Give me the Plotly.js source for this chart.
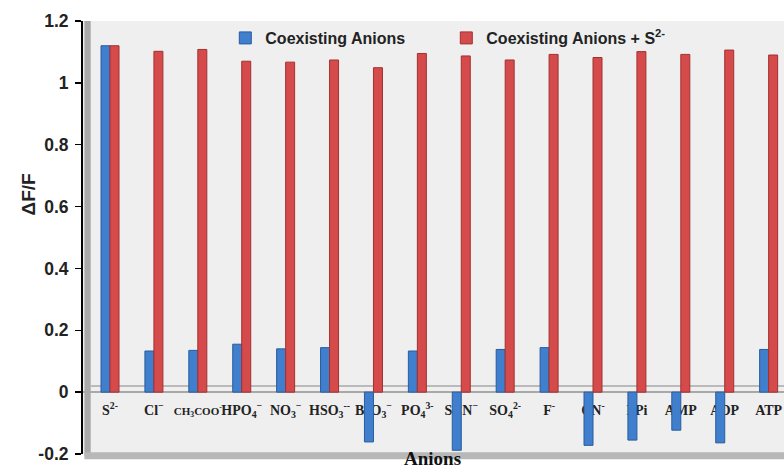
<!DOCTYPE html>
<html>
<head>
<meta charset="utf-8">
<script src="https://cdn.plot.ly/plotly-3.0.1.min.js"></script>
<style>html,body{margin:0;padding:0;background:#fff;}#chart{width:784px;height:470px;}</style>
</head>
<body>
<div id="chart"></div>
<script>
var categories = [
  'S<sup>2-</sup>', 'Cl<sup>−</sup>', '<span style="font-size:11px">CH<sub>3</sub>COO<sup>-</sup></span>',
  'HPO<sub>4</sub><sup>−</sup>', 'NO<sub>3</sub><sup>−</sup>', 'HSO<sub>3</sub><sup>--</sup>',
  'BrO<sub>3</sub><sup>−</sup>', 'PO<sub>4</sub><sup>3-</sup>', 'SCN<sup>−</sup>',
  'SO<sub>4</sub><sup>2-</sup>', 'F<sup>-</sup>', 'CN<sup>-</sup>', 'PPi', 'AMP', 'ADP', 'ATP'
];
var coexisting = [1.12, 0.133, 0.135, 0.155, 0.140, 0.144, -0.161, 0.133, -0.188, 0.138, 0.144, -0.172, -0.155, -0.123, -0.164, 0.138];
var coexistingS = [1.12, 1.102, 1.108, 1.070, 1.067, 1.074, 1.049, 1.095, 1.087, 1.074, 1.092, 1.082, 1.101, 1.092, 1.106, 1.090];
var seriesNames = ['<b>Coexisting Anions</b>', '<b>Coexisting Anions + S<sup>2-</sup></b>'];
var yTicks = [-0.2, 0, 0.2, 0.4, 0.6, 0.8, 1, 1.2];
var yTickText = ['-0.2', '0', '0.2', '0.4', '0.6', '0.8', '1', '1.2'];

var traces = [
  {type: 'bar', x: categories, y: coexisting, name: seriesNames[0],
   marker: {color: '#3f7fcd', line: {color: '#2a5b9e', width: 1}}},
  {type: 'bar', x: categories, y: coexistingS, name: seriesNames[1],
   marker: {color: '#d54a4a', line: {color: '#a33131', width: 1}}}
];

var layout = {
  width: 784, height: 470,
  margin: {l: 83, r: 0, t: 21, b: 16},
  paper_bgcolor: '#ffffff',
  plot_bgcolor: '#efefef',
  barmode: 'group',
  bargap: 0.59,
  bargroupgap: 0,
  showlegend: true,
  legend: {
    orientation: 'h', x: 0.203, xanchor: 'left', y: 1.0, yanchor: 'top',
    bgcolor: 'rgba(0,0,0,0)', entrywidth: 176, entrywidthmode: 'pixels',
    itemwidth: 30,
    font: {family: 'Liberation Sans, Arial, sans-serif', size: 16, color: '#222'}
  },
  xaxis: {
    type: 'category',
    range: [-0.615, 15.35],
    anchor: 'free', position: 0.143,
    showline: false, showgrid: false, zeroline: false,
    ticks: '', ticklabelstandoff: 8, tickangle: 0,
    layer: 'below traces',
    tickfont: {family: 'Liberation Serif, Times New Roman, serif', size: 14, color: '#222', weight: 'bold'},
    fixedrange: true
  },
  yaxis: {
    range: [-0.2, 1.2],
    tickvals: yTicks, ticktext: yTickText,
    showline: true, linecolor: '#000', linewidth: 2,
    ticks: 'outside', ticklen: 6, tickcolor: '#000', tickwidth: 1.5,
    showgrid: false,
    zeroline: true, zerolinecolor: '#a8a8a8', zerolinewidth: 1.5,
    ticklabelstandoff: 3,
    tickfont: {family: 'Liberation Sans, Arial, sans-serif', size: 17.5, color: '#222', weight: 'bold'},
    fixedrange: true
  },
  shapes: [
    {type: 'rect', xref: 'paper', yref: 'paper', x0: 0.002, x1: 0.011, y0: -0.005, y1: 1.0,
     fillcolor: '#a9a9a9', line: {width: 0}, layer: 'below'},
    {type: 'rect', xref: 'paper', yref: 'paper', x0: 0.002, x1: 1, y0: -0.012, y1: 0.004,
     fillcolor: '#b8b8b8', line: {width: 0}, layer: 'below'},
    {type: 'line', xref: 'paper', yref: 'y', x0: 0.011, x1: 1, y0: 0.02, y1: 0.02,
     line: {color: '#a8a8a8', width: 1.5}, layer: 'below'}
  ],
  annotations: [
    {text: '<b>ΔF/F</b>', xref: 'paper', yref: 'paper', x: -0.078, y: 0.6,
     textangle: -90, showarrow: false, xanchor: 'center', yanchor: 'middle',
     font: {family: 'Liberation Sans, Arial, sans-serif', size: 19, color: '#222'}},
    {text: '<b>Anions</b>', xref: 'paper', yref: 'paper', x: 0.498, y: -0.038,
     showarrow: false, xanchor: 'center', yanchor: 'bottom', borderpad: 0,
     font: {family: 'Liberation Serif, Times New Roman, serif', size: 19, color: '#111'}}
  ]
};

Plotly.newPlot('chart', traces, layout, {displayModeBar: false, staticPlot: true});
</script>
</body>
</html>
